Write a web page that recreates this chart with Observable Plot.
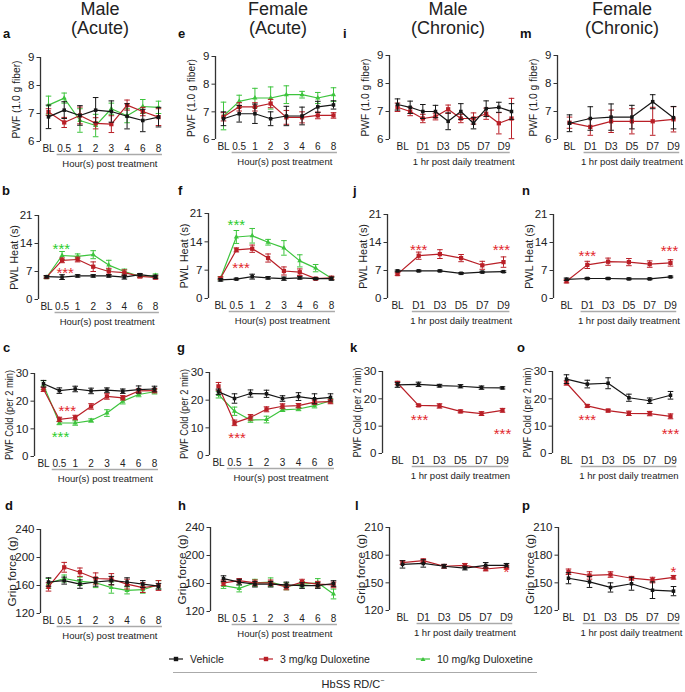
<!DOCTYPE html>
<html><head><meta charset="utf-8">
<script src="https://cdn.jsdelivr.net/npm/d3@7"></script>
<script src="https://cdn.jsdelivr.net/npm/@observablehq/plot@0.6"></script>
<style>
body{margin:0;background:#fff;font-family:Arial,"Liberation Sans",sans-serif;color:#222;}
#fig{position:relative;width:685px;height:692px;overflow:hidden;background:#fff;}
.abs{position:absolute;}
.title{font-size:18px;text-align:center;line-height:19px;color:#222;width:160px;}
.letter{font-weight:bold;font-size:13px;line-height:13px;color:#111;}
.leg{font-size:10.5px;color:#222;white-space:nowrap;}
</style></head><body><div id="fig"></div>
<script>
// ---------- tick labels ----------
const acuteTicks = ["BL","0.5","1","2","3","4","6","8"];
const chronicTicks = ["BL","D1","D3","D5","D7","D9"];
const iTickPos = [0.4, 2, 3.6, 5.2, 6.8, 8.4];

// ---------- data (mean, SEM) ----------
// a: Male acute, von Frey
const a_veh = [6.88, 7.12, 6.93, 7.12, 7.07, 6.90, 6.75, 6.87];
const a_veh_e = [0.42, 0.30, 0.35, 0.45, 0.38, 0.45, 0.40, 0.35];
const a_d3 = [7.05, 6.68, 6.93, 6.65, 6.62, 7.30, 7.07, 6.87];
const a_d3_e = [0.12, 0.18, 0.30, 0.20, 0.30, 0.18, 0.15, 0.30];
const a_d10 = [7.30, 7.55, 6.75, 6.57, 7.17, 6.92, 7.25, 7.22];
const a_d10_e = [0.32, 0.18, 0.42, 0.40, 0.20, 0.25, 0.25, 0.22];
// e: Female acute, von Frey
const e_veh = [6.75, 6.93, 6.93, 6.75, 6.85, 6.85, 7.18, 7.25];
const e_veh_e = [0.25, 0.30, 0.35, 0.25, 0.35, 0.32, 0.20, 0.15];
const e_d3 = [6.82, 7.18, 7.18, 7.30, 6.80, 6.80, 6.87, 6.87];
const e_d3_e = [0.15, 0.15, 0.15, 0.15, 0.25, 0.20, 0.12, 0.10];
const e_d10 = [6.85, 7.38, 7.50, 7.50, 7.62, 7.62, 7.50, 7.62];
const e_d10_e = [0.50, 0.22, 0.35, 0.40, 0.32, 0.12, 0.20, 0.25];
// i: Male chronic, von Frey (BL, D1..D9)
const i_veh = [7.25, 7.15, 7.00, 7.00, 6.65, 7.00, 6.58, 7.10, 7.15, 7.00];
const i_veh_e = [0.20, 0.22, 0.25, 0.22, 0.30, 0.28, 0.20, 0.28, 0.18, 0.28];
const i_d3 = [7.15, 7.00, 6.75, 6.82, 7.08, 6.75, 6.75, 6.92, 6.58, 6.75];
const i_d3_e = [0.15, 0.15, 0.15, 0.12, 0.15, 0.15, 0.20, 0.20, 0.38, 0.72];
// m: Female chronic, von Frey
const m_veh = [6.58, 6.75, 6.80, 6.80, 7.35, 6.78];
const m_veh_e = [0.30, 0.42, 0.47, 0.42, 0.25, 0.40];
const m_d3 = [6.60, 6.45, 6.65, 6.65, 6.65, 6.72];
const m_d3_e = [0.20, 0.30, 0.40, 0.45, 0.50, 0.45];
// b: Male acute, heat
const b_veh = [5.7, 5.6, 5.9, 5.9, 5.9, 5.6, 6.2, 5.7];
const b_veh_e = [0.3, 0.6, 0.3, 0.3, 0.3, 0.5, 0.3, 0.4];
const b_d3 = [5.6, 9.8, 10.0, 8.2, 7.0, 6.7, 5.8, 5.5];
const b_d3_e = [0.3, 0.6, 0.6, 1.2, 0.8, 0.7, 0.4, 0.4];
const b_d10 = [5.5, 11.0, 10.8, 11.2, 8.6, 7.0, 5.8, 6.0];
const b_d10_e = [0.3, 1.0, 0.6, 1.0, 1.2, 0.6, 0.3, 0.4];
// f: Female acute, heat
const f_veh = [4.6, 4.8, 5.4, 5.1, 4.9, 5.1, 4.9, 4.9];
const f_veh_e = [0.3, 0.2, 0.6, 0.3, 0.4, 0.3, 0.2, 0.4];
const f_d3 = [5.0, 12.0, 12.3, 10.0, 6.8, 6.5, 4.9, 5.1];
const f_d3_e = [0.3, 0.5, 0.9, 1.0, 1.0, 0.8, 0.3, 0.4];
const f_d10 = [5.0, 15.2, 15.5, 13.9, 12.5, 9.3, 7.5, 5.0];
const f_d10_e = [0.4, 1.6, 1.8, 0.7, 1.8, 1.5, 0.9, 0.3];
// j: Male chronic, heat
const j_veh = [6.9, 6.9, 6.9, 6.3, 6.6, 6.7];
const j_veh_e = [0.2, 0.2, 0.2, 0.2, 0.2, 0.2];
const j_d3 = [6.1, 10.7, 11.1, 10.1, 8.3, 9.1];
const j_d3_e = [0.3, 0.9, 1.1, 0.9, 1.0, 1.3];
// n: Female chronic, heat
const n_veh = [4.8, 5.0, 5.0, 4.9, 4.9, 5.4];
const n_veh_e = [0.3, 0.2, 0.2, 0.2, 0.2, 0.2];
const n_d3 = [4.3, 8.4, 9.2, 9.1, 8.6, 8.9];
const n_d3_e = [0.4, 0.9, 0.9, 0.9, 0.8, 0.8];
// c: Male acute, cold
const c_veh = [26.3, 23.8, 24.4, 23.7, 24.0, 23.6, 24.2, 24.4];
const c_veh_e = [1.2, 1.0, 1.0, 1.0, 0.8, 0.8, 1.3, 1.0];
const c_d3 = [24.3, 13.4, 14.1, 18.1, 21.7, 21.2, 23.7, 23.8];
const c_d3_e = [0.8, 0.8, 0.8, 1.0, 1.0, 0.8, 0.8, 0.8];
const c_d10 = [25.8, 12.1, 12.1, 13.0, 15.7, 20.0, 22.4, 23.4];
const c_d10_e = [1.6, 0.6, 0.8, 0.6, 1.2, 1.0, 0.8, 0.8];
// g: Female acute, cold
const g_veh = [23.0, 20.6, 22.4, 22.3, 20.6, 21.3, 20.5, 21.0];
const g_veh_e = [1.0, 1.7, 1.3, 1.3, 1.0, 1.4, 1.8, 1.3];
const g_d3 = [25.0, 11.8, 13.8, 16.7, 17.8, 18.0, 19.3, 19.5];
const g_d3_e = [1.4, 1.0, 1.0, 0.9, 0.9, 0.8, 0.8, 0.8];
const g_d10 = [22.0, 16.0, 12.8, 13.0, 16.5, 16.8, 18.0, 19.8];
const g_d10_e = [1.2, 1.5, 0.8, 1.2, 0.6, 0.6, 0.8, 0.7];
// k: Male chronic, cold
const k_veh = [25.1, 25.3, 24.8, 24.6, 24.1, 24.0];
const k_veh_e = [0.9, 0.8, 0.5, 0.6, 0.6, 0.4];
const k_d3 = [25.8, 17.6, 17.4, 15.4, 14.6, 15.8];
const k_d3_e = [0.6, 0.4, 0.8, 0.5, 0.7, 0.7];
// o: Female chronic, cold
const o_veh = [27.2, 25.4, 25.7, 20.4, 19.3, 21.3];
const o_veh_e = [1.6, 1.4, 2.0, 1.3, 1.0, 1.4];
const o_d3 = [25.8, 17.4, 15.7, 14.7, 14.6, 13.6];
const o_d3_e = [0.8, 0.5, 0.5, 0.8, 0.8, 0.9];
// d: Male acute, grip
const d_veh = [165, 167, 162, 165, 167, 165, 162, 159];
const d_veh_e = [6, 5, 6, 6, 6, 6, 5, 4];
const d_d3 = [158, 186, 179, 170, 169, 162, 157, 160];
const d_d3_e = [6, 7, 6, 8, 8, 7, 7, 7];
const d_d10 = [163, 170, 166, 164, 157, 153, 154, 161];
const d_d10_e = [7, 5, 6, 7, 8, 5, 5, 6];
// h: Female acute, grip
const h_veh = [167, 162, 159, 159, 158, 157, 157, 160];
const h_veh_e = [4, 4, 4, 4, 4, 4, 4, 4];
const h_d3 = [161, 164, 161, 161, 155, 162, 159, 158];
const h_d3_e = [4, 3, 4, 4, 4, 4, 4, 4];
const h_d10 = [157, 153, 161, 162, 156, 159, 161, 145];
const h_d10_e = [4, 5, 5, 6, 5, 4, 6, 7];
// l: Male chronic, grip
const l_veh = [170, 171, 168, 166, 169, 169];
const l_veh_e = [4, 4, 2, 2, 3, 2];
const l_d3 = [172, 174, 168, 169, 165, 167];
const l_d3_e = [2, 2, 2, 2, 2, 2];
// p: Female chronic, grip
const p_veh = [155, 151, 145, 149, 142, 141];
const p_veh_e = [6, 6, 5, 7, 9, 5];
const p_d3 = [162, 158, 159, 155, 153, 156];
const p_d3_e = [3, 4, 3, 2, 3, 2];

// significance marks
const b_stars = [{x:0.95, y:13.7, t:"***", c:"green"}, {x:1.2, y:7.5, t:"***", c:"red"}];
const f_stars = [{x:1.0, y:19.1, t:"***", c:"green"}, {x:1.3, y:8.6, t:"***", c:"red"}];
const j_stars = [{x:1.0, y:13.2, t:"***", c:"red"}, {x:4.9, y:13.2, t:"***", c:"red"}];
const n_stars = [{x:1.0, y:11.5, t:"***", c:"red"}, {x:4.95, y:12.8, t:"***", c:"red"}];
const c_stars = [{x:1.5, y:17.8, t:"***", c:"red"}, {x:1.07, y:8.5, t:"***", c:"green"}];
const g_stars = [{x:1.16, y:7.6, t:"***", c:"red"}];
const k_stars = [{x:1.05, y:13.6, t:"***", c:"red"}, {x:5.0, y:8.7, t:"***", c:"red"}];
const o_stars = [{x:1.0, y:13.6, t:"***", c:"red"}, {x:5.0, y:8.5, t:"***", c:"red"}];
const l_stars = [{x:5.0, y:166, t:"*", c:"red"}];
const p_stars = [{x:5.0, y:166, t:"*", c:"red"}];

// ---------- styling / layout ----------
const COL = {veh:"#161616", d3:"#b91f27", d10:"#3dc43d"};
const STAR = {red:"#e2262c", green:"#2ccd2c"};
const SYM = {veh:["square",2.0], d3:["square",2.4], d10:["triangle",1.9]};
// [axisX, firstPointX, lastPointX, yTopPx, yBottomPx]
const layout = {
 a:[40,48,158,57,141], e:[215,223,333,56,139], i:[389,397,511,55,139], m:[557,569,673,55,139],
 b:[38,46,155,215,299], f:[208,220,331,213,298], j:[387,397,503,214,298], n:[553,566,670,214,298],
 c:[34,43,154,373,456], g:[209,218,330,372,455], k:[382,397,502,371,453], o:[552,566,670,371,453],
 d:[40,48,158,529,613], h:[210,223,333,527,611], l:[389,402,506,527,610], p:[558,568,673,527,610]
};
const letterPos = {a:[3,27], e:[178,27], i:[343,27], m:[520,27], b:[2,184], f:[178,184], j:[353,184], n:[522,184],
 c:[3,341], g:[177,341], k:[350,341], o:[517,341], d:[5,499], h:[178,499], l:[355,499], p:[522,499]};

const vf = {yDomain:[6,9], yTicks:[6,7,8,9], yLabel:"PWF (1.0 g fiber)", yLen:78, yOff:-24};
const ht = {yDomain:[0,21], yTicks:[0,7,14,21], yLabel:"PWL Heat (s)", yLen:65, yOff:-24};
const cd = {yDomain:[0,30], yTicks:[0,10,20,30], yLabel:"PWF Cold (per 2 min)", yLen:90, yOff:-25};
const gA = {yDomain:[120,240], yTicks:[120,160,200,240], yLabel:"Grip force (g)", yLen:70, yOff:-28};
const gC = {yDomain:[120,210], yTicks:[120,150,180,210], yLabel:"Grip force (g)", yLen:70, yOff:-28};
const acute = {tickPos:[0,1,2,3,4,5,6,7], tickLabels:acuteTicks, xTitle:"Hour(s) post treatment", ul:[0.55,7.25]};
const chron = {tickPos:[0,1,2,3,4,5], tickLabels:chronicTicks, xTitle:"1 hr post daily treatment", ul:[0.7,5.3]};

const S = (key, mean, err) => ({key, mean, err});
const panels = [
 {id:"a", ...vf, ...acute, series:[S("d10",a_d10,a_d10_e), S("d3",a_d3,a_d3_e), S("veh",a_veh,a_veh_e)], stars:[]},
 {id:"e", ...vf, ...acute, series:[S("d10",e_d10,e_d10_e), S("d3",e_d3,e_d3_e), S("veh",e_veh,e_veh_e)], stars:[]},
 {id:"i", ...vf, ...chron, tickPos:iTickPos, ul:[1.55,8.9], series:[S("d3",i_d3,i_d3_e), S("veh",i_veh,i_veh_e)], stars:[]},
 {id:"m", ...vf, ...chron, series:[S("d3",m_d3,m_d3_e), S("veh",m_veh,m_veh_e)], stars:[]},
 {id:"b", ...ht, ...acute, series:[S("d10",b_d10,b_d10_e), S("d3",b_d3,b_d3_e), S("veh",b_veh,b_veh_e)], stars:b_stars},
 {id:"f", ...ht, ...acute, series:[S("d10",f_d10,f_d10_e), S("d3",f_d3,f_d3_e), S("veh",f_veh,f_veh_e)], stars:f_stars},
 {id:"j", ...ht, ...chron, series:[S("d3",j_d3,j_d3_e), S("veh",j_veh,j_veh_e)], stars:j_stars},
 {id:"n", ...ht, ...chron, series:[S("d3",n_d3,n_d3_e), S("veh",n_veh,n_veh_e)], stars:n_stars},
 {id:"c", ...cd, ...acute, series:[S("d10",c_d10,c_d10_e), S("d3",c_d3,c_d3_e), S("veh",c_veh,c_veh_e)], stars:c_stars},
 {id:"g", ...cd, ...acute, series:[S("d10",g_d10,g_d10_e), S("d3",g_d3,g_d3_e), S("veh",g_veh,g_veh_e)], stars:g_stars},
 {id:"k", ...cd, ...chron, xTitle:"1 hr post daily treatmen", series:[S("d3",k_d3,k_d3_e), S("veh",k_veh,k_veh_e)], stars:k_stars},
 {id:"o", ...cd, ...chron, xTitle:"1 hr post daily treatmen", series:[S("d3",o_d3,o_d3_e), S("veh",o_veh,o_veh_e)], stars:o_stars},
 {id:"d", ...gA, ...acute, series:[S("d10",d_d10,d_d10_e), S("d3",d_d3,d_d3_e), S("veh",d_veh,d_veh_e)], stars:[]},
 {id:"h", ...gA, ...acute, series:[S("d10",h_d10,h_d10_e), S("d3",h_d3,h_d3_e), S("veh",h_veh,h_veh_e)], stars:[]},
 {id:"l", ...gC, ...chron, series:[S("d3",l_d3,l_d3_e), S("veh",l_veh,l_veh_e)], stars:l_stars},
 {id:"p", ...gC, ...chron, series:[S("d3",p_d3,p_d3_e), S("veh",p_veh,p_veh_e)], stars:p_stars}
];

const capSym = {draw(ctx, size){ const w = Math.sqrt(size/Math.PI); ctx.moveTo(-w,0); ctx.lineTo(w,0); }};
const fig = document.getElementById("fig");

function makePanel(cfg){
  const [axisX, firstX, lastX, yTop, yBot] = layout[cfg.id];
  const n = cfg.series[0].mean.length;
  const sp = (lastX - firstX)/(n - 1);
  const lo = -(firstX - axisX)/sp;
  const hi = (n - 1) + 8/sp;
  const ML = 46, MR = 18, MT = 12, MB = 44;
  const W = ML + (hi - lo)*sp + MR;
  const H = MT + (yBot - yTop) + MB;
  const [ymin, ymax] = cfg.yDomain;
  const lbl = new Map(cfg.tickPos.map((t,k) => [t, cfg.tickLabels[k]]));
  const marks = [
    Plot.ruleX([lo], {y1:ymin, y2:ymax, stroke:"#333", strokeWidth:1.3}),
    Plot.axisY({ticks:cfg.yTicks, tickFormat:d => String(d), tickSize:3.5, tickPadding:2.5, fontSize:11.5, label:null, stroke:"#333"}),
    Plot.axisX({ticks:cfg.tickPos, tickFormat:d => lbl.get(d), tickSize:0, tickPadding:3, fontSize:10, label:null}),
    Plot.ruleY([ymin], {x1:cfg.ul[0], x2:cfg.ul[1], dy:13, stroke:"#aaa", strokeWidth:1.4}),
    Plot.text([cfg.xTitle], {x:(cfg.ul[0]+cfg.ul[1])/2, y:ymin, text:d => d, dy:22, fontSize:9.5, fill:"#222"}),
    Plot.text([cfg.yLabel], {frameAnchor:"left", rotate:-90, dx:cfg.yOff, text:d => d, fontSize:11, fill:"#222"})
  ];
  for (const s of cfg.series){
    const rows = s.mean.map((m,k) => ({i:k, m, lo:m - s.err[k], hi:m + s.err[k]}));
    const c = COL[s.key];
    marks.push(
      Plot.ruleX(rows, {x:"i", y1:"lo", y2:"hi", stroke:c, strokeWidth:1}),
      Plot.dot(rows, {x:"i", y:"lo", symbol:capSym, r:2.8, stroke:c, fill:"none", strokeWidth:1}),
      Plot.dot(rows, {x:"i", y:"hi", symbol:capSym, r:2.8, stroke:c, fill:"none", strokeWidth:1}),
      Plot.line(rows, {x:"i", y:"m", stroke:c, strokeWidth:1.2}),
      Plot.dot(rows, {x:"i", y:"m", symbol:SYM[s.key][0], r:SYM[s.key][1], fill:c, stroke:"none"})
    );
  }
  for (const col of ["red","green"]){
    const st = cfg.stars.filter(d => d.c === col);
    if (st.length) marks.push(Plot.text(st, {x:"x", y:"y", text:"t", fill:STAR[col], fontSize:15, dy:4}));
  }
  const svg = Plot.plot({
    width:W, height:H, marginLeft:ML, marginRight:MR, marginTop:MT, marginBottom:MB,
    x:{domain:[lo, hi], axis:null}, y:{domain:[ymin, ymax], axis:null},
    style:{overflow:"visible", background:"transparent", fontFamily:"Arial, 'Liberation Sans', sans-serif", color:"#222"},
    marks
  });
  svg.style.position = "absolute";
  svg.style.left = (axisX - ML) + "px";
  svg.style.top = (yTop - MT) + "px";
  fig.appendChild(svg);
  // condense the y label like the reference (anchor handled explicitly)
  svg.querySelectorAll("text").forEach(t => {
    if (t.textContent === cfg.yLabel){
      t.setAttribute("text-anchor", "start");
      t.setAttribute("x", -cfg.yLen/2);
      t.setAttribute("textLength", cfg.yLen);
      t.setAttribute("lengthAdjust", "spacingAndGlyphs");
    }
  });
  const L = document.createElement("div");
  L.className = "abs letter"; L.textContent = cfg.id;
  L.style.left = letterPos[cfg.id][0] + "px"; L.style.top = letterPos[cfg.id][1] + "px";
  fig.appendChild(L);
}
panels.forEach(makePanel);

// column titles
const titles = [["Male","(Acute)",100],["Female","(Acute)",278],["Male","(Chronic)",448],["Female","(Chronic)",622]];
titles.forEach(([a,b,cx]) => {
  const d = document.createElement("div");
  d.className = "abs title"; d.innerHTML = a + "<br>" + b;
  d.style.left = (cx - 80) + "px"; d.style.top = "0px";
  fig.appendChild(d);
});

// legend
const legendItems = [["veh","Vehicle",168],["d3","3 mg/kg Duloxetine",258],["d10","10 mg/kg Duloxetine",415]];
legendItems.forEach(([k, txt, x]) => {
  const d = document.createElement("div");
  d.className = "abs leg"; d.style.left = x + "px"; d.style.top = "652px";
  const sym = k === "d10" ? '<path d="M8,3 L10.5,7 L5.5,7 Z" fill="'+COL[k]+'"/>' : '<rect x="5.8" y="2.8" width="4.4" height="4.4" fill="'+COL[k]+'"/>';
  d.innerHTML = '<svg width="16" height="10" style="vertical-align:middle;margin-right:6px"><line x1="1" x2="15" y1="5" y2="5" stroke="'+COL[k]+'" stroke-width="1.2"/>'+sym+'</svg><span style="vertical-align:middle">'+txt+'</span>';
  fig.appendChild(d);
});
const hl = document.createElement("div");
hl.className = "abs"; hl.style.left = "173px"; hl.style.top = "672px"; hl.style.width = "364px"; hl.style.height = "0"; hl.style.borderTop = "1.4px solid #aaa";
fig.appendChild(hl);
const hb = document.createElement("div");
hb.className = "abs leg"; hb.style.left = "253px"; hb.style.width = "200px"; hb.style.textAlign = "center"; hb.style.top = "677px"; hb.style.fontSize = "11px";
hb.innerHTML = 'HbSS RD/C<sup style="font-size:7px">−</sup>';
fig.appendChild(hb);
</script></body></html>
